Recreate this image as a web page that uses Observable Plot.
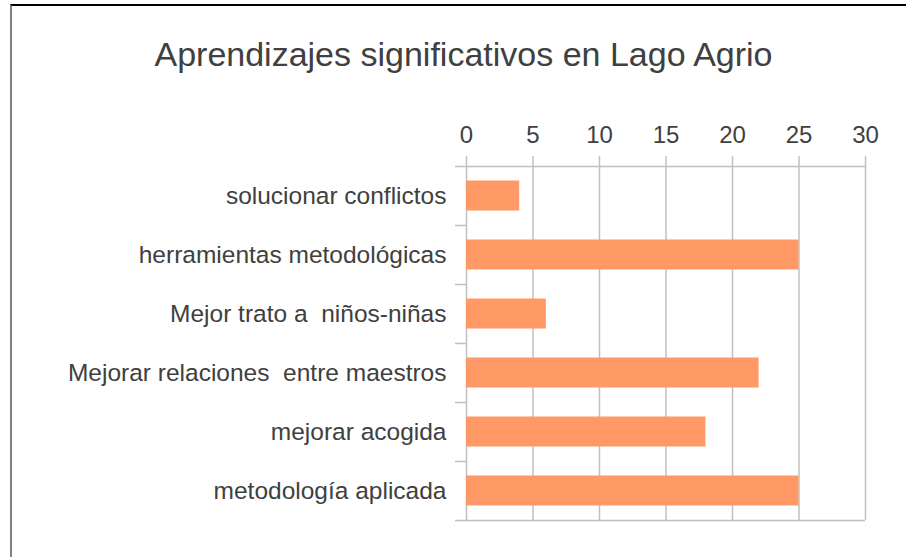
<!DOCTYPE html>
<html><head><meta charset="utf-8">
<script src="https://cdn.jsdelivr.net/npm/d3@7"></script>
<script src="https://cdn.jsdelivr.net/npm/@observablehq/plot@0.6"></script>
<style>
body{margin:0;background:#fff;}
#wrap{position:relative;width:906px;height:557px;overflow:hidden;font-family:"Liberation Sans",Arial,sans-serif;background:#fff;}
#frame{position:absolute;left:10px;top:4px;width:896px;height:553px;border-top:2px solid #000;border-left:2px solid #7f7f7f;box-sizing:border-box;}
#title{position:absolute;left:0;width:927px;text-align:center;top:37px;font-size:34px;line-height:34px;color:#404040;white-space:nowrap;}
#chart{position:absolute;left:0;top:0;}
</style></head><body>
<div id="wrap"><div id="frame"></div><div id="title">Aprendizajes significativos en Lago Agrio</div><div id="chart"></div></div>
<script>
const categories = [
  "solucionar conflictos",
  "herramientas metodológicas",
  "Mejor trato a  niños-niñas",
  "Mejorar relaciones  entre maestros",
  "mejorar acogida",
  "metodología aplicada"
];
const values = [4, 25, 6, 22, 18, 25];
const xTicks = [0, 5, 10, 15, 20, 25, 30];

const data = categories.map((c, i) => ({category: c, value: values[i]}));
const top0 = 166, bottom0 = 520;
const bw = (bottom0 - top0) / categories.length;
const grid = "#c0c0c0";
const ink = "#404040";

const plot = Plot.plot({
  width: 906,
  height: 557,
  marginTop: top0,
  marginBottom: 557 - bottom0,
  marginLeft: 455,
  marginRight: 41,
  style: {fontFamily: "'Liberation Sans', Arial, sans-serif", fontSize: "24px", color: ink, background: "transparent", overflow: "visible"},
  x: {domain: [0, 30], range: [466, 865], label: null},
  y: {domain: categories, padding: 0, label: null},
  marks: [
    Plot.ruleX(xTicks, {stroke: grid, strokeWidth: 1.5}),
    Plot.ruleY([categories[0]], {y: d => d, dy: -bw / 2, stroke: grid, strokeWidth: 1.5}),
    Plot.ruleY([categories[categories.length - 1]], {y: d => d, dy: bw / 2, stroke: grid, strokeWidth: 1.5}),
    Plot.barX(data, {x: "value", y: "category", fill: "#ff9966", insetTop: 14.5, insetBottom: 14.5}),
    Plot.axisY({ticks: categories.slice(1), tickSize: 11, dx: 11, dy: -bw / 2, tickFormat: () => "", stroke: grid, strokeWidth: 1.5, label: null}),
    Plot.axisY({tickSize: 0, tickPadding: 9, fill: ink, fontSize: 24.5, label: null}),
    Plot.axisX({anchor: "top", ticks: xTicks, tickSize: 11, tickPadding: 13, stroke: grid, strokeWidth: 1.5, fill: ink, fontSize: 24, label: null})
  ]
});
document.getElementById("chart").appendChild(plot);
</script>
</body></html>
